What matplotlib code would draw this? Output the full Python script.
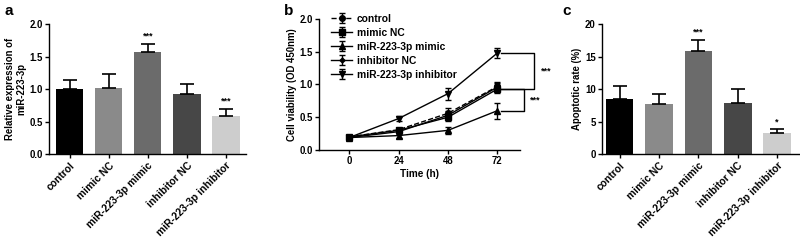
import numpy as np
import matplotlib
matplotlib.use("Agg")
import matplotlib.pyplot as plt

plt.rcParams['font.family'] = ['Liberation Sans', 'DejaVu Sans']
plt.rcParams['font.weight'] = 'bold'
plt.rcParams['axes.linewidth'] = 1.0

# ---------- data ----------
groups = ['control', 'mimic NC', 'miR-223-3p mimic', 'inhibitor NC', 'miR-223-3p inhibitor']
bar_colors = ['#000000', '#8a8a8a', '#6b6b6b', '#474747', '#cdcdcd']

expr_mean = [1.00, 1.02, 1.57, 0.93, 0.58]
expr_err = [0.14, 0.21, 0.13, 0.15, 0.12]
expr_stars = ['', '', '***', '', '***']

hours = [0, 24, 48, 72]
via_labels = ['control', 'mimic NC', 'miR-223-3p mimic', 'inhibitor NC', 'miR-223-3p inhibitor']
via_mean = [
    [0.20, 0.31, 0.56, 0.97],
    [0.20, 0.30, 0.50, 0.93],
    [0.19, 0.22, 0.30, 0.60],
    [0.19, 0.28, 0.53, 0.96],
    [0.19, 0.48, 0.86, 1.48],
]
via_err = [
    [0.02, 0.03, 0.08, 0.07],
    [0.02, 0.04, 0.06, 0.06],
    [0.02, 0.03, 0.05, 0.12],
    [0.02, 0.03, 0.06, 0.06],
    [0.02, 0.04, 0.09, 0.07],
]
via_markers = ['o', 's', '^', 'D', 'v']
via_styles = ['--', '-', '-', '-', '-']
via_msize = [4, 4, 4, 2.5, 4]

apo_mean = [8.5, 7.7, 15.8, 7.9, 3.2]
apo_err = [1.9, 1.5, 1.8, 2.1, 0.7]
apo_stars = ['', '', '***', '', '*']

fs = 6.9      # axis labels / y ticks
fs_x = 7.4    # rotated category labels
fs_leg = 7.4

fig = plt.figure(figsize=(8, 2.4), dpi=100)


def style_axes(ax, xsize=fs):
    for s in ['top', 'right']:
        ax.spines[s].set_visible(False)
    ax.tick_params(direction='out', length=3, width=1, labelsize=fs, pad=1.5)
    ax.tick_params(axis='x', labelsize=xsize)
    for lab in ax.get_xticklabels() + ax.get_yticklabels():
        lab.set_fontweight('bold')


def bar_panel(ax, means, errs, stars, ylim, yticks, ylabel, star_pad):
    x = np.arange(len(groups))
    ax.bar(x, means, width=0.7, color=bar_colors, zorder=2)
    ax.errorbar(x, means, yerr=[np.zeros(len(means)), errs], fmt='none',
                ecolor='black', elinewidth=1.2, capsize=5, capthick=1.2, zorder=3)
    for xi, m, e, s in zip(x, means, errs, stars):
        if s:
            ax.text(xi, m + e + star_pad, s, ha='center', va='bottom', fontsize=fs - 0.5)
    ax.set_ylim(*ylim)
    ax.set_yticks(yticks)
    ax.set_xticks(x)
    ax.set_xticklabels(groups, rotation=45, ha='right', rotation_mode='anchor')
    ax.set_ylabel(ylabel, fontsize=fs, fontweight='bold', labelpad=2)


# ---------- panel a ----------
ax1 = fig.add_axes([0.061, 0.358, 0.246, 0.542])
bar_panel(ax1, expr_mean, expr_err, expr_stars, (0, 2.0), [0.0, 0.5, 1.0, 1.5, 2.0],
          'Relative expression of\nmiR-223-3p', 0.04)
ax1.set_yticklabels(['0.0', '0.5', '1.0', '1.5', '2.0'])
ax1.set_xlim(-0.53, 4.5)
style_axes(ax1, fs_x)
fig.text(0.006, 0.955, 'a', fontsize=11, fontweight='bold', va='center')

# ---------- panel b ----------
ax2 = fig.add_axes([0.399, 0.375, 0.251, 0.546])
for m, e, lab, mk, ls, ms in zip(via_mean, via_err, via_labels, via_markers, via_styles, via_msize):
    ax2.errorbar(hours, m, yerr=e, color='black', marker=mk, markersize=ms, linestyle=ls,
                 linewidth=1.0, elinewidth=1.0, capsize=2, label=lab)
ax2.set_xlim(-14.6, 83)
ax2.set_ylim(0, 2.0)
ax2.set_xticks(hours)
ax2.set_yticks([0.0, 0.5, 1.0, 1.5, 2.0])
ax2.set_yticklabels(['0.0', '0.5', '1.0', '1.5', '2.0'])
ax2.set_xlabel('Time (h)', fontsize=fs + 0.3, fontweight='bold', labelpad=2)
ax2.set_ylabel('Cell viability (OD 450nm)', fontsize=fs, fontweight='bold', labelpad=2)
style_axes(ax2)
leg = ax2.legend(loc='upper left', bbox_to_anchor=(0.04, 1.07), frameon=False,
                 prop={'size': fs_leg, 'weight': 'bold'}, handlelength=2.0,
                 labelspacing=0.38, borderaxespad=0, handletextpad=0.5)
# significance brackets
inh72 = via_mean[4][3]
ctl72 = via_mean[1][3]
mim72 = via_mean[2][3]
ax2.plot([74, 90, 90, 74], [inh72, inh72, ctl72, ctl72], color='black', lw=1, clip_on=False)
ax2.plot([74, 85, 85, 74], [ctl72, ctl72, mim72, mim72], color='black', lw=1, clip_on=False)
ax2.text(93, (inh72 + ctl72) / 2, '***', fontsize=fs - 0.5, va='center', ha='left')
ax2.text(88, (ctl72 + mim72) / 2, '***', fontsize=fs - 0.5, va='center', ha='left')
fig.text(0.355, 0.955, 'b', fontsize=11, fontweight='bold', va='center')

# ---------- panel c ----------
ax3 = fig.add_axes([0.7525, 0.358, 0.246, 0.542])
bar_panel(ax3, apo_mean, apo_err, apo_stars, (0, 20), [0, 5, 10, 15, 20],
          'Apoptotic rate (%)', 0.4)
ax3.set_xlim(-0.45, 4.55)
style_axes(ax3, fs_x)
fig.text(0.703, 0.955, 'c', fontsize=11, fontweight='bold', va='center')

fig.savefig('out.png', dpi=100)
